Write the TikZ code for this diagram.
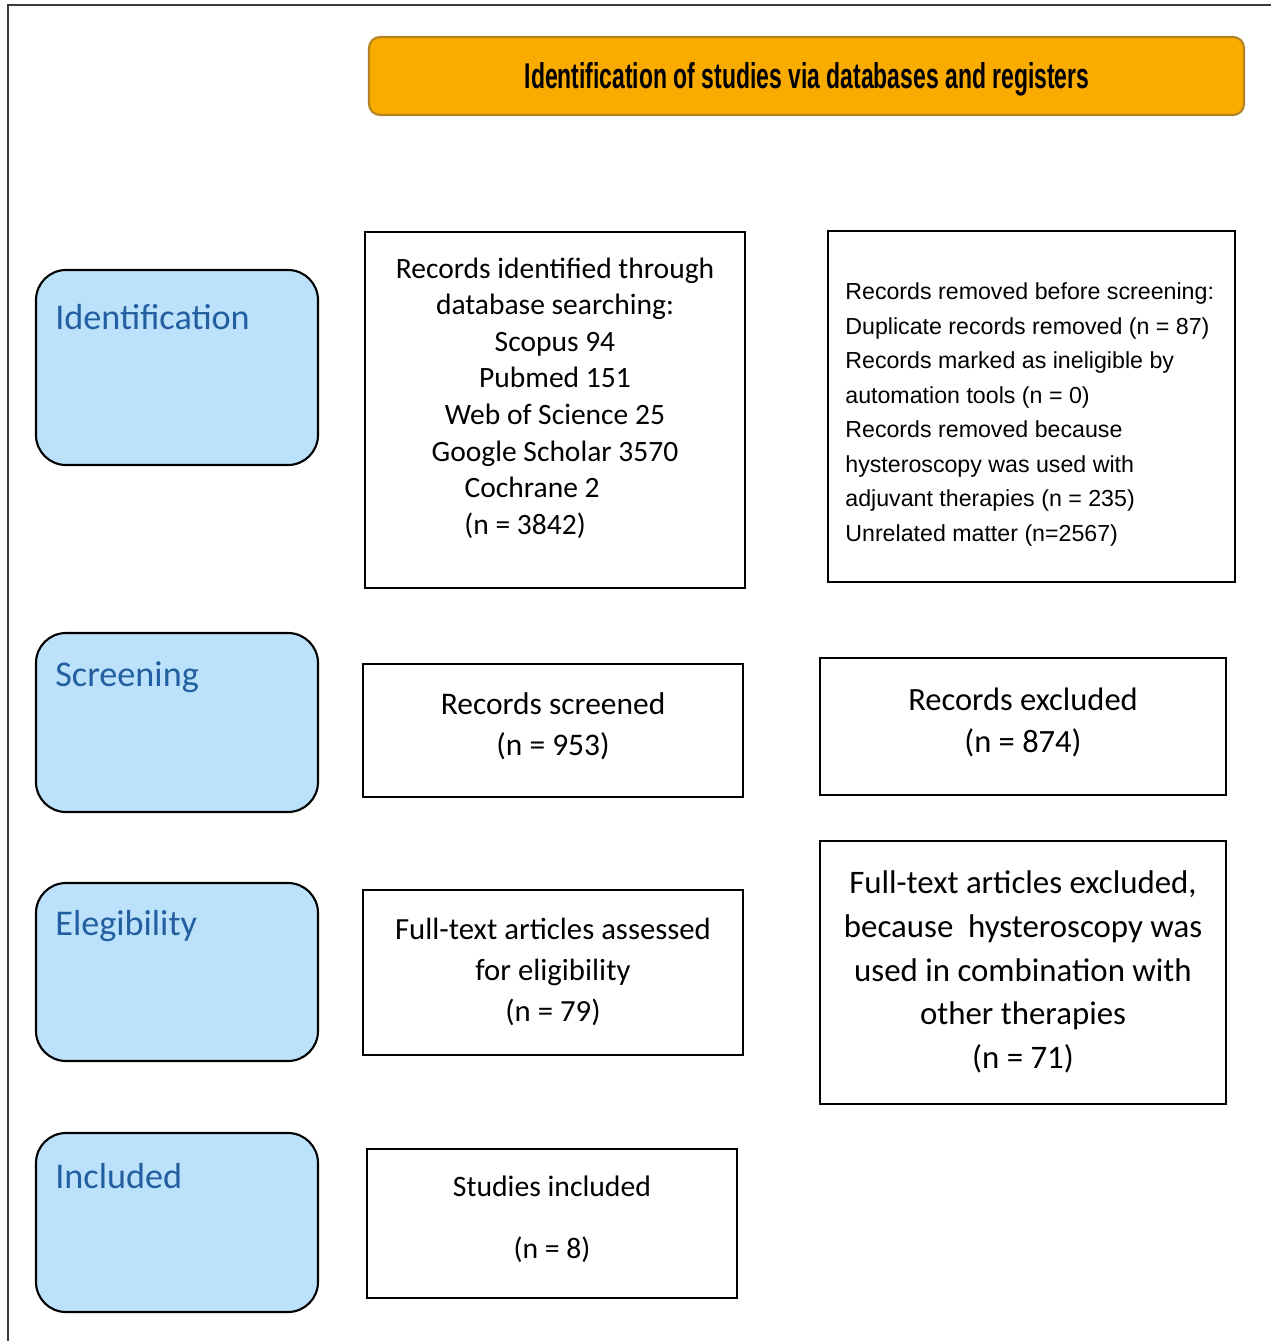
\documentclass[tikz,border=0pt]{standalone}
\usepackage{fontspec}
\usepackage{graphicx}
\setmainfont{Carlito}
\newfontfamily\arialf{Liberation Sans}
\usetikzlibrary{fit}
\definecolor{headfill}{RGB}{249,171,0}
\definecolor{headdraw}{RGB}{180,130,30}
\definecolor{phasefill}{RGB}{187,226,250}
\definecolor{phasetext}{RGB}{35,95,160}
\definecolor{framecol}{RGB}{60,60,60}
\tikzset{
  framel/.style={draw=framecol, line width=0.9pt},
  headbox/.style={draw=headdraw, fill=headfill, line width=1.2pt, rounded corners=0.22cm, inner sep=0},
  phasebox/.style={draw=black, fill=phasefill, line width=1.2pt, rounded corners=0.6cm, inner sep=0},
  phaselab/.style={anchor=west, inner sep=0, text=phasetext, font=\fontsize{20.6}{24}\selectfont},
  flowbox/.style={draw=black, line width=1.2pt, inner sep=0},
  flowtext/.style={inner sep=0, align=center},
}
\begin{document}
\begin{tikzpicture}[x=0.02cm, y=-0.02cm]
\useasboundingbox (0,0) rectangle (1271,1341);
% outer frame (left and top)
\draw[framel] (8,1341) -- (8,5) -- (1271,5);

% header
\node[headbox, fit={(369,37) (1244,115)}] (head) {};
\node[inner sep=0] (headT) at (807,79) {\arialf\bfseries\fontsize{17}{20}\selectfont\scalebox{0.768}[1.2]{Identification of studies via databases and registers}};

% phase boxes
\node[phasebox, fit={(36,270) (318,465)}] (pId) {};
\node[phasebox, fit={(36,633) (318,812)}] (pSc) {};
\node[phasebox, fit={(36,883) (318,1061)}] (pEl) {};
\node[phasebox, fit={(36,1133) (318,1312)}] (pIn) {};
\node[phaselab] (lId) at (55,317) {Identification};
\node[phaselab] (lSc) at (55,677) {Screening};
\node[phaselab] (lEl) at (55,926) {Elegibility};
\node[phaselab] (lIn) at (55,1176) {Included};

% middle column
\node[flowbox, fit={(365,232) (745,588)}] (ident) {};
\node[flowtext, font=\fontsize{16.8}{20.8}\selectfont] (identT) at (555,398) {Records identified through\\ database searching:\\ Scopus 94\\ Pubmed 151\\ Web of Science 25\\ Google Scholar 3570\\ Cochrane 2\rule{26pt}{0pt}\\ (n = 3842)\rule{34pt}{0pt}};

\node[flowbox, fit={(363,664) (743,797)}] (screen) {};
\node[flowtext, font=\fontsize{17.9}{23.2}\selectfont] (screenT) at (553,726.5) {Records screened\\ (n = 953)};

\node[flowbox, fit={(363,890) (743,1055)}] (full) {};
\node[flowtext, font=\fontsize{17.5}{23.2}\selectfont] (fullT) at (553,972) {Full-text articles assessed\\ for eligibility\\ (n = 79)};

\node[flowbox, fit={(367,1149) (737,1298)}] (incl) {};
\node[flowtext, font=\fontsize{16.9}{20}\selectfont] (inclT) at (552,1219) {Studies included\\[15pt] (n = 8)};

% right column
\node[flowbox, fit={(828,231) (1235,582)}] (removed) {};
\node[inner sep=0, anchor=west, align=left, font=\arialf\fontsize{13.2}{19.6}\selectfont] (removedT) at (845,414.5) {Records removed before screening:\\ Duplicate records removed (n = 87)\\ Records marked as ineligible by\\ automation tools (n = 0)\\ Records removed because\\ hysteroscopy was used with\\ adjuvant therapies (n = 235)\\ Unrelated matter (n=2567)};

\node[flowbox, fit={(820,658) (1226,795)}] (excl) {};
\node[flowtext, font=\fontsize{18.5}{24.4}\selectfont] (exclT) at (1023,722.5) {Records excluded\\ (n = 874)};

\node[flowbox, fit={(820,841) (1226,1104)}] (ftex) {};
\node[flowtext, font=\fontsize{18.7}{24.9}\selectfont] (ftexT) at (1023,972) {Full-text articles excluded,\\ because\ \ hysteroscopy was\\ used in combination with\\ other therapies\\ (n = 71)};
\end{tikzpicture}
\end{document}
